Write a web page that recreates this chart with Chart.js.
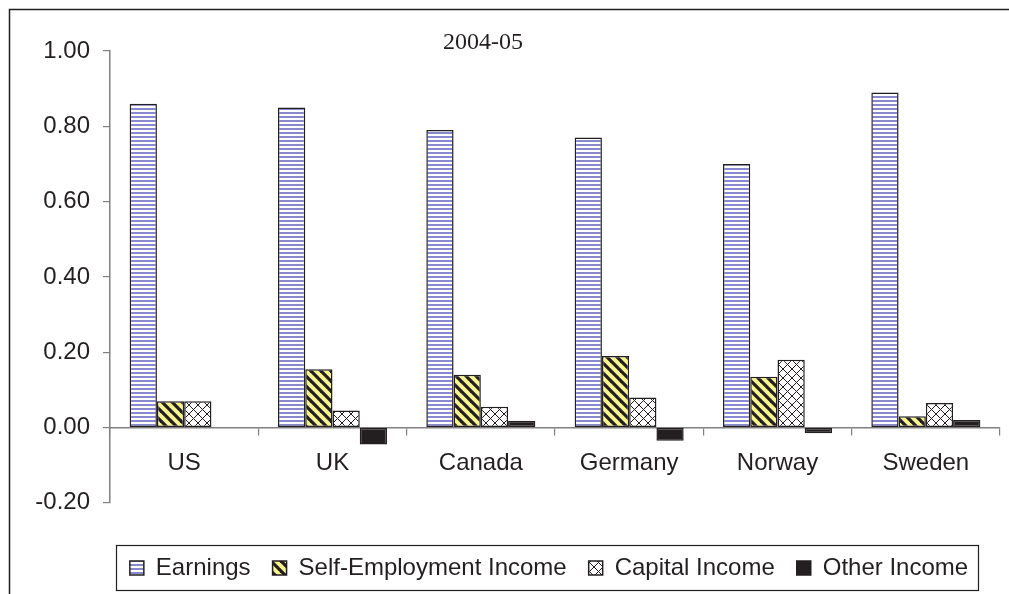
<!DOCTYPE html>
<html>
<head>
<meta charset="utf-8">
<script src="https://cdn.jsdelivr.net/npm/chart.js@4"></script>
<style>
  html, body { margin: 0; padding: 0; background: #fff; }
  #wrap { position: relative; width: 1009px; height: 594px; }
</style>
</head>
<body>
<div id="wrap"><canvas id="income"></canvas></div>
<script>
const countries = ['US', 'UK', 'Canada', 'Germany', 'Norway', 'Sweden'];
const earnings = [0.86, 0.85, 0.79, 0.77, 0.70, 0.89];
const selfEmployment = [0.07, 0.155, 0.14, 0.19, 0.135, 0.03];
const capitalIncome = [0.07, 0.045, 0.055, 0.08, 0.18, 0.065];
const otherIncome = [0, -0.045, 0.018, -0.035, -0.015, 0.02];
const yTicks = [-0.2, 0, 0.2, 0.4, 0.6, 0.8, 1.0];

const ink = '#231f20';
const axisGrey = '#808080';
const legendPad = 22;
const legendTitlePad = 30;

function makePattern(size, paint) {
  const c = document.createElement('canvas');
  c.width = size;
  c.height = size;
  const g = c.getContext('2d');
  paint(g, size);
  return g.createPattern(c, 'repeat');
}

// blue / white horizontal stripes
const stripes = makePattern(4, (g, s) => {
  g.fillStyle = '#fff';
  g.fillRect(0, 0, s, s);
  g.fillStyle = 'rgb(136,136,204)';
  g.fillRect(0, 0, s, 2);
});

// yellow with thick black "\" diagonals
const diagonal = makePattern(10, (g, s) => {
  g.fillStyle = '#f6f48e';
  g.fillRect(0, 0, s, s);
  g.strokeStyle = ink;
  g.lineWidth = 3.2;
  for (let k = -1; k <= 1; k++) {
    g.beginPath();
    g.moveTo(k * s - s, -s);
    g.lineTo(k * s + 2 * s, 2 * s);
    g.stroke();
  }
});

// white with thin diagonal cross-hatch
const hatch = makePattern(9, (g, s) => {
  g.fillStyle = '#fff';
  g.fillRect(0, 0, s, s);
  g.strokeStyle = ink;
  g.lineWidth = 1;
  for (let k = -1; k <= 1; k++) {
    g.beginPath();
    g.moveTo(k * s - s, -s);
    g.lineTo(k * s + 2 * s, 2 * s);
    g.moveTo(k * s - s, 2 * s);
    g.lineTo(k * s + 2 * s, -s);
    g.stroke();
  }
});

// the legend sits centred under the plot, not under the whole canvas
const legendShift = {
  id: 'legendShift',
  beforeDraw(chart) {
    chart.legend.left = chart.chartArea.left - 12;
  }
};

const frameAndTitle = {
  id: 'frameAndTitle',
  afterDraw(chart) {
    const { ctx } = chart;
    const lg = chart.legend;
    ctx.save();
    // outer frame (top + left edges)
    ctx.strokeStyle = ink;
    ctx.lineWidth = 1.5;
    ctx.beginPath();
    ctx.moveTo(9.5, chart.height);
    ctx.lineTo(9.5, 9.5);
    ctx.lineTo(chart.width, 9.5);
    ctx.stroke();

    // legend frame around the items (same maths as the legend's own layout)
    const lineW = lg.lineWidths[0];
    const x0 = (lg.left + legendPad + lg.right - lineW) / 2;
    const x1 = x0 + lineW - legendPad;
    const y0 = lg.top + legendPad + 1.2 + legendTitlePad;
    const left = x0 - 14, right = x1 + 10;
    const top = y0 - 11, bottom = y0 + 24 + 10;
    ctx.lineWidth = 1.2;
    ctx.strokeRect(Math.round(left) + 0.5, Math.round(top) + 0.5,
      Math.round(right - left), Math.round(bottom - top));

    // title
    ctx.fillStyle = ink;
    ctx.font = '24px "Liberation Serif", "DejaVu Serif", serif';
    ctx.textAlign = 'center';
    ctx.textBaseline = 'alphabetic';
    ctx.fillText('2004-05', 483, 49);
    ctx.restore();
  }
};

const barStyle = {
  borderColor: ink,
  borderWidth: 1.5,
  borderSkipped: false,
  categoryPercentage: 0.735,
  barPercentage: 1.0
};

new Chart(document.getElementById('income'), {
  type: 'bar',
  data: {
    labels: countries,
    datasets: [
      { label: 'Earnings', data: earnings, backgroundColor: stripes, ...barStyle },
      { label: 'Self-Employment Income', data: selfEmployment, backgroundColor: diagonal, ...barStyle },
      { label: 'Capital Income', data: capitalIncome, backgroundColor: hatch, ...barStyle },
      { label: 'Other Income', data: otherIncome, backgroundColor: ink, ...barStyle }
    ]
  },
  plugins: [legendShift, frameAndTitle],
  options: {
    responsive: true,
    maintainAspectRatio: false,
    animation: false,
    layout: { padding: { left: 9, right: 9, top: 51, bottom: 4 } },
    plugins: {
      tooltip: { enabled: false },
      legend: {
        position: 'bottom',
        title: { display: true, text: '', font: { size: 1 }, padding: { top: legendTitlePad, bottom: 0 } },
        labels: {
          color: ink,
          font: { family: '"Liberation Sans", Arial, sans-serif', size: 24 },
          boxWidth: 14,
          boxHeight: 14,
          padding: legendPad
        }
      }
    },
    scales: {
      x: {
        position: { y: 0 },
        offset: true,
        grid: { display: true, drawOnChartArea: false, offset: true, tickLength: 7, color: axisGrey, lineWidth: 1.2 },
        border: { display: true, color: axisGrey, width: 1.5 },
        ticks: {
          color: ink,
          padding: 14,
          font: { family: '"Liberation Sans", Arial, sans-serif', size: 24 }
        }
      },
      y: {
        min: yTicks[0],
        max: yTicks[yTicks.length - 1],
        afterFit(scale) { scale.width = 101; },
        afterBuildTicks(scale) { scale.ticks = yTicks.map(v => ({ value: v })); },
        grid: { display: true, drawOnChartArea: false, tickLength: 7, color: axisGrey, lineWidth: 1.2 },
        border: { display: true, color: axisGrey, width: 1.5 },
        ticks: {
          color: ink,
          padding: 13,
          font: { family: '"Liberation Sans", Arial, sans-serif', size: 24 },
          callback: v => Number(v).toFixed(2)
        }
      }
    }
  }
});
</script>
</body>
</html>
